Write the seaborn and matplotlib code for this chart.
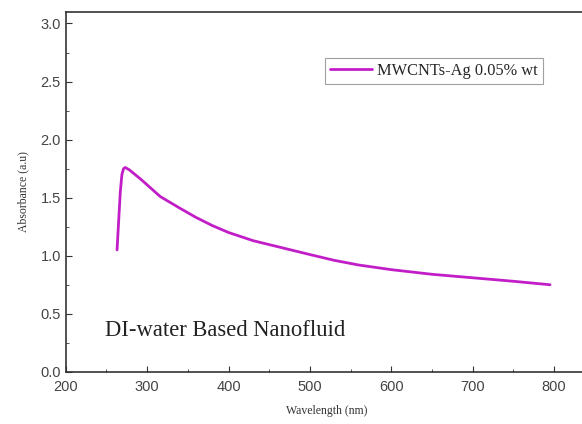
import numpy as np
import pandas as pd
import seaborn as sns
import matplotlib
matplotlib.use("Agg")
import matplotlib.pyplot as plt
from matplotlib.ticker import MultipleLocator, FormatStrFormatter

# -------------------------------
# Data
# -------------------------------
wavelength = [263, 265, 267, 269, 271, 273, 278, 285, 292, 300, 308, 316,
              328, 340, 360, 380, 400, 430, 465, 500, 530, 560, 600, 650,
              700, 750, 795]
absorbance = [1.05, 1.30, 1.55, 1.70, 1.75, 1.76, 1.74, 1.70, 1.66, 1.61,
              1.56, 1.51, 1.46, 1.41, 1.33, 1.26, 1.20, 1.13, 1.07, 1.01,
              0.96, 0.92, 0.88, 0.84, 0.81, 0.78, 0.75]
series_name = "MWCNTs-Ag 0.05% wt"

df = pd.DataFrame({"Wavelength": wavelength, "Absorbance": absorbance,
                   "Sample": series_name})

# -------------------------------
# Plot
# -------------------------------
sns.set_style("ticks")
plt.rcParams["font.family"] = ["Liberation Sans", "DejaVu Sans"]

fig = plt.figure(figsize=(5.82, 4.24), dpi=100)
ax = fig.add_axes([0.113, 0.123, 0.895, 0.849])

sns.lineplot(data=df, x="Wavelength", y="Absorbance", hue="Sample",
             palette=["#c21ec8"], linewidth=2, ax=ax)

ax.set_xlim(200, 840)
ax.set_ylim(0, 3.1)
ax.xaxis.set_major_locator(MultipleLocator(100))
ax.xaxis.set_minor_locator(MultipleLocator(50))
ax.yaxis.set_major_locator(MultipleLocator(0.5))
ax.yaxis.set_minor_locator(MultipleLocator(0.25))
ax.yaxis.set_major_formatter(FormatStrFormatter("%.1f"))
ax.tick_params(which="both", direction="in", colors="#333333",
               labelsize=10.5, labelcolor="#444444")
ax.tick_params(which="major", length=4)
ax.tick_params(which="minor", length=2.5)
ax.tick_params(axis="x", pad=6)
for s in ax.spines.values():
    s.set_color("#333333")
    s.set_linewidth(1.2)

ax.set_xlabel("Wavelength (nm)", family="Liberation Serif", fontsize=8.5,
              color="#333333", labelpad=8)
ax.set_ylabel("Absorbance (a.u)", family="Liberation Serif", fontsize=8.5,
              color="#333333", labelpad=8)

ax.text(0.075, 0.1, "DI-water Based Nanofluid",
        transform=ax.transAxes, family="Liberation Serif", fontsize=16.3,
        color="#222222")

leg = ax.legend(loc="upper left", bbox_to_anchor=(0.497, 0.872), frameon=True,
                fancybox=False, edgecolor="#888888", handlelength=2.6,
                borderpad=0.3, handletextpad=0.3, borderaxespad=0,
                prop={"family": "Liberation Serif", "size": 11.8})
leg.get_frame().set_linewidth(0.8)

fig.savefig("out.png", dpi=100)
